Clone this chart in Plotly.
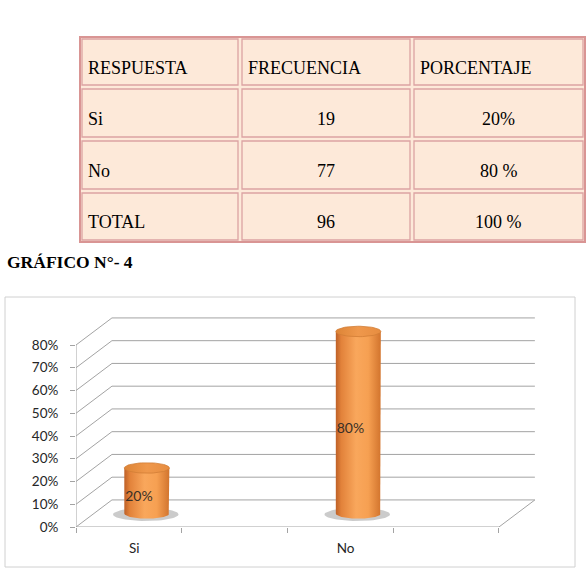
import plotly.graph_objects as go
import numpy as np

# ---------------- data ----------------
table_header = ["RESPUESTA", "FRECUENCIA", "PORCENTAJE"]
respuestas = ["Si", "No", "TOTAL"]
frecuencias = [19, 77, 96]
porcentajes_txt = ["20%", "80 %", "100 %"]

categories = ["Si", "No"]
values = [20, 80]               # percent
y_ticks = [0, 10, 20, 30, 40, 50, 60, 70, 80]
y_ticktext = ["0%", "10%", "20%", "30%", "40%", "50%", "60%", "70%", "80%"]
title_text = "GRÁFICO N°- 4"

# ---------------- geometry / style ----------------
W, H = 586, 568
DX, DY = 0.34, 11.9            # 3D depth offset (x units, % units)
RX, RY = 0.213, 2.3            # cylinder ellipse radii
MID = 0.5                      # cylinder at mid depth
GRID = "#A3A3A3"

def px(x):
    return x / W

def py(y):
    return 1 - y / H

fig = go.Figure()

# ---- 3D frame (walls / floor) ----
gx, gy = [], []
for v in y_ticks:
    gx += [DX, 4 + DX, None]
    gy += [v + DY, v + DY, None]
    gx += [0, DX, None]
    gy += [v, v + DY, None]
gx += [0, 0, None, 0, 4, None, 4, 4 + DX, None]
gy += [0, y_ticks[-1], None, 0, 0, None, 0, DY, None]
fig.add_trace(go.Scatter(x=gx, y=gy, mode="lines", line=dict(color=GRID, width=1),
                         hoverinfo="skip", showlegend=False))

# ---- cylinders ----
t = np.linspace(0, np.pi, 40)
tt = np.linspace(0, 2 * np.pi, 60)
for i, (cat, v) in enumerate(zip(categories, values)):
    cx = 2 * i + 0.5 + DX * MID
    base = DY * MID
    top = v + base
    # shadow
    fig.add_trace(go.Scatter(x=cx - 0.01 + 0.31 * np.cos(tt), y=base - 0.4 + 2.9 * np.sin(tt),
                             mode="lines", fill="toself", line=dict(width=0),
                             fillcolor="rgba(140,140,140,0.45)", hoverinfo="skip", showlegend=False))
    # body
    bx = [cx - RX, cx - RX, cx + RX, cx + RX] + list(cx + RX * np.cos(t))
    by = [base, top, top, base] + list(base - RY * np.sin(t))
    fig.add_trace(go.Scatter(x=bx, y=by, mode="lines", fill="toself", line=dict(width=0),
                             fillgradient=dict(type="horizontal",
                                               colorscale=[[0, "#BE6027"], [0.12, "#E2823A"],
                                                           [0.45, "#F9A75C"], [0.72, "#F6A052"],
                                                           [1, "#D2742D"]]),
                             hoverinfo="skip", showlegend=False))
    # top face
    fig.add_trace(go.Scatter(x=cx + RX * np.cos(tt), y=top + RY * np.sin(tt),
                             mode="lines", fill="toself", line=dict(width=0.8, color="#D27D36"),
                             fillgradient=dict(type="horizontal",
                                               colorscale=[[0, "#DD8436"], [0.5, "#EF984C"],
                                                           [1, "#E78D40"]]),
                             hoverinfo="skip", showlegend=False))

# ---- data labels ----
fig.add_trace(go.Scatter(
    x=[2 * i + 0.5 + DX * MID - 0.075 for i in range(len(values))],
    y=[v / 2 + 3 for v in values],
    mode="text", text=[f"{v}%" for v in values],
    textfont=dict(family="Lato", size=14, color="#3A3026"),
    hoverinfo="skip", showlegend=False))

# ---------------- layout ----------------
shapes = []
annotations = []

# table
col_b = [80, 240, 412, 585]
row_b = [37, 87, 139, 191, 242]
shapes.append(dict(type="rect", xref="paper", yref="paper",
                   x0=px(col_b[0]), x1=px(col_b[-1]), y0=py(row_b[-1]), y1=py(row_b[0]),
                   fillcolor="#FDE9D9", line=dict(color="#D99594", width=2)))
rows = [table_header] + [[r, str(f), p] for r, f, p in zip(respuestas, frecuencias, porcentajes_txt)]
for ri, row in enumerate(rows):
    for ci, txt in enumerate(row):
        x0, x1 = col_b[ci], col_b[ci + 1]
        y0, y1 = row_b[ri], row_b[ri + 1]
        shapes.append(dict(type="rect", xref="paper", yref="paper",
                           x0=px(x0 + 2), x1=px(x1 - 2), y0=py(y1 - 2), y1=py(y0 + 2),
                           line=dict(color="#DCA3A2", width=1.3)))
        left = (ri == 0) or (ci == 0)
        annotations.append(dict(
            xref="paper", yref="paper",
            x=px(x0 + 6) if left else px((x0 + x1) / 2),
            xanchor="left" if left else "center",
            y=py((y0 + y1) / 2 + 6), yanchor="middle",
            text=txt, showarrow=False,
            font=dict(family="Liberation Serif", size=18, color="#000000")))

# title
annotations.append(dict(xref="paper", yref="paper", x=px(5), y=py(262), xanchor="left",
                        yanchor="middle", text=f"<b>{title_text}</b>", showarrow=False,
                        font=dict(family="Liberation Serif", size=17.5, color="#000000")))

# chart box
shapes.append(dict(type="rect", xref="paper", yref="paper", layer="below",
                   x0=px(5), x1=px(575), y0=py(567), y1=py(297),
                   fillcolor="white", line=dict(color="#D0D0D0", width=1)))

y_top_range = 95
fig.update_layout(
    width=W, height=H,
    margin=dict(l=0, r=0, t=0, b=0, autoexpand=False),
    paper_bgcolor="white", plot_bgcolor="rgba(0,0,0,0)",
    showlegend=False,
    shapes=shapes, annotations=annotations,
    xaxis=dict(domain=[px(76), px(537)], range=[0, 4 + 0.36], showgrid=False, zeroline=False,
               showline=False, automargin=False,
               tickmode="array", tickvals=[2 * i + 0.55 for i in range(len(categories))],
               ticktext=categories, ticks="", ticklabelstandoff=11,
               tickfont=dict(family="Lato", size=13.5, color="#262626"),
               minor=dict(tickvals=[0, 1, 2, 3, 4], ticks="outside", ticklen=5,
                          tickcolor=GRID, tickwidth=1, showgrid=False),
               fixedrange=True),
    yaxis=dict(domain=[py(527), py(527 - y_top_range * 2.275)], range=[0, y_top_range],
               showgrid=False, zeroline=False, showline=False, automargin=False,
               tickmode="array", tickvals=y_ticks, ticktext=y_ticktext,
               ticks="outside", ticklen=5, tickcolor=GRID, tickwidth=1,
               ticklabelstandoff=9,
               tickfont=dict(family="Lato", size=13.5, color="#262626"),
               fixedrange=True),
)

fig.write_html("out.html")
